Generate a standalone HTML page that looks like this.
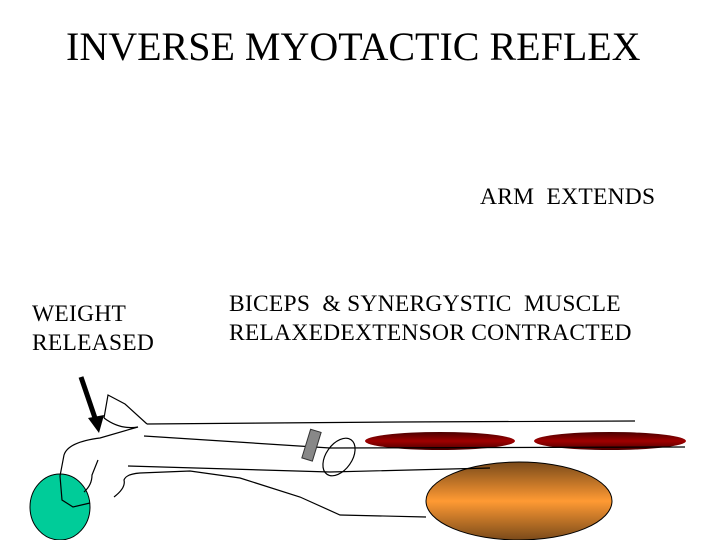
<!DOCTYPE html>
<html><head><meta charset="utf-8"><style>
body{margin:0;width:720px;height:540px;background:#fff;overflow:hidden;font-family:"Liberation Serif",serif;}
.t{position:absolute;white-space:nowrap;color:#000;font-size:23.5px;line-height:29px;letter-spacing:0.25px;}
</style></head><body>
<div class="t" style="left:66px;top:24px;font-size:40px;line-height:46px;letter-spacing:0;">INVERSE MYOTACTIC REFLEX</div>
<div class="t" style="left:480px;top:183px;">ARM&nbsp; EXTENDS</div>
<div class="t" style="left:32px;top:300px;">WEIGHT<br>RELEASED</div>
<div class="t" style="left:229px;top:290px;">BICEPS &nbsp;&amp; SYNERGYSTIC&nbsp; MUSCLE<br>RELAXEDEXTENSOR CONTRACTED</div>
<svg width="720" height="540" style="position:absolute;left:0;top:0">
<defs>
<linearGradient id="o" x1="0" y1="0" x2="0" y2="1"><stop offset="0" stop-color="#7a4a1a"/><stop offset="0.5" stop-color="#ff9a33"/><stop offset="1" stop-color="#7a4a1a"/></linearGradient>
<linearGradient id="r" x1="0" y1="0" x2="0" y2="1"><stop offset="0" stop-color="#4a0000"/><stop offset="0.5" stop-color="#a00000"/><stop offset="1" stop-color="#4a0000"/></linearGradient>
</defs>
<ellipse cx="60" cy="507" rx="30" ry="33" fill="#00cc99" stroke="#000" stroke-width="1"/>
<ellipse cx="440" cy="441" rx="75" ry="9" fill="url(#r)"/>
<ellipse cx="610" cy="441" rx="76" ry="9" fill="url(#r)"/>
<ellipse cx="519" cy="501" rx="93" ry="39" fill="url(#o)" stroke="#000" stroke-width="1"/>
<g fill="none" stroke="#000" stroke-width="1.2">
<path d="M147,424 L400,422 L635,421"/>
<path d="M104,418 L108,395 L125,404 L147,424"/>
<path d="M104,418 Q120,430 138,427 L100,438 Q68,442 64,455 L60,476 L62,500 L73,507 L90,503"/>
<path d="M144,436 L330,448 L685,447"/>
<path d="M128,466 L330,472 L490,468"/>
<path d="M98,460 L92,475 Q92,485 84,492"/>
<path d="M114,497 Q126,488 124,480 Q126,474 140,473 L190,471 L240,478 L300,497 L340,515 L426,517"/>
<ellipse cx="339" cy="457" rx="13" ry="21" transform="rotate(35 339 457)"/>
</g>
<rect x="306" y="430" width="11" height="30" fill="#888" stroke="#333" transform="rotate(17 311 445)"/>
<line x1="81" y1="377" x2="95" y2="418" stroke="#000" stroke-width="5"/>
<polygon points="88,418 104,415 99,433" fill="#000"/>
</svg>
</body></html>
